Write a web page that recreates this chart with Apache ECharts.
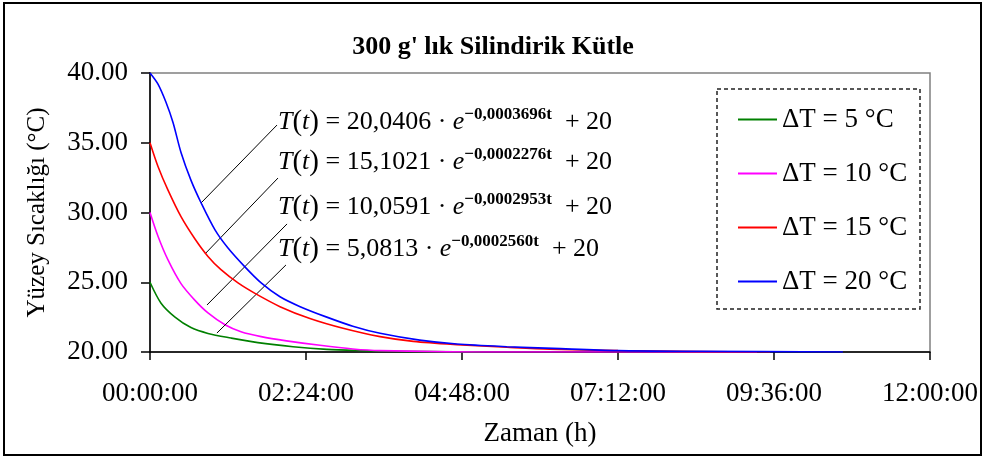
<!DOCTYPE html>
<html><head><meta charset="utf-8">
<script src="https://cdn.jsdelivr.net/npm/echarts@6/dist/echarts.min.js"></script>
<style>html,body{margin:0;padding:0;background:#fff}#c{width:986px;height:459px}</style>
</head><body><div id="c"></div>
<script>
// ---- data (time in hours, temperature in °C) ----
const seriesNames = ['ΔT = 5 °C', 'ΔT = 10 °C', 'ΔT = 15 °C', 'ΔT = 20 °C'];
const seriesColors = ['#008000', '#FF00FF', '#FF0000', '#0000FF'];

const greenT = [0, 0.17, 0.385, 0.63, 0.892, 1.246, 1.66, 2.2, 2.72, 3.23, 3.69, 5.08];
const greenV = [25.0, 23.5, 22.5, 21.75, 21.33, 21.0, 20.67, 20.38, 20.19, 20.1, 20.05, 20.0];

const pinkT = [0, 0.123, 0.277, 0.477, 0.692, 0.892, 1.154, 1.4, 1.71, 2.1, 2.615, 3.12, 3.54, 5.08, 9.34];
const pinkV = [30.0, 28.3, 26.6, 24.9, 23.7, 22.8, 21.95, 21.45, 21.1, 20.8, 20.48, 20.22, 20.1, 20.0, 20.0];

const redT = [0, 0.123, 0.277, 0.477, 0.692, 0.892, 1.092, 1.354, 1.615, 2.0, 2.46, 2.97, 3.54, 4.05, 4.72, 5.49, 6.15, 7.2, 8.46, 9.54];
const redV = [35.0, 33.3, 31.6, 29.7, 28.1, 26.85, 25.9, 24.95, 24.2, 23.25, 22.4, 21.7, 21.1, 20.76, 20.53, 20.34, 20.2, 20.1, 20.04, 20.0];

const blueT = [0, 0.123, 0.246, 0.354, 0.477, 0.631, 0.785, 1.0, 1.2, 1.46, 1.71, 2.0, 2.31, 2.72, 3.12, 3.54, 4.15, 4.72, 5.49, 6.2, 7.2, 8.46, 10.66];
const blueV = [40.0, 39.2, 37.9, 36.45, 34.3, 32.3, 30.7, 28.75, 27.45, 26.1, 24.95, 23.96, 23.25, 22.5, 21.85, 21.34, 20.85, 20.57, 20.38, 20.26, 20.1, 20.05, 20.0];

const xTickLabels = ['00:00:00', '02:24:00', '04:48:00', '07:12:00', '09:36:00', '12:00:00'];

const eqCoef = ['20,0406', '15,1021', '10,0591', '5,0813'];
const eqExp = ['−0,0003696t', '−0,0002276t', '−0,0002953t', '−0,0002560t'];
// leader lines [t1, v1, t2, v2] in data units, one per equation (blue, red, pink, green)
const leaders = [
  [0.785, 30.68, 1.954, 36.27],
  [0.846, 27.03, 1.969, 32.47],
  [0.877, 23.37, 2.108, 29.18],
  [1.03, 21.36, 2.092, 26.24]
];

// ---- build ----
const FONT = 'Liberation Serif, Times New Roman, serif';
function pairs(t, v) { return t.map((h, i) => [h * 3600, v[i]]); }
const allData = [pairs(greenT, greenV), pairs(pinkT, pinkV), pairs(redT, redV), pairs(blueT, blueV)];
const leaderSeriesIdx = [3, 2, 1, 0];

const series = allData.map((d, i) => {
  const li = leaderSeriesIdx.indexOf(i);
  const L = leaders[li];
  return {
    name: seriesNames[i], type: 'line', data: d, symbol: 'none', showSymbol: false,
    smooth: 0.3,
    lineStyle: { color: seriesColors[i], width: 1.6 }, itemStyle: { color: seriesColors[i] },
    z: 3 + i,
    markLine: {
      silent: true, symbol: ['none', 'none'], animation: false,
      lineStyle: { color: '#000', width: 1, type: 'solid' }, label: { show: false },
      data: [[{ coord: [L[0] * 3600, L[1]] }, { coord: [L[2] * 3600, L[3]] }]]
    }
  };
});

const eqY = [122.5, 162.5, 207, 249];
const graphics = eqCoef.map((c, i) => ({
  type: 'text', left: 278, top: eqY[i] - 16, z: 100,
  style: {
    text: '{i|T}{q|(}{i|t}{q|)}{p| = ' + c + ' · }{i|e}{s|' + eqExp[i] + '}{p|  + 20}',
    fill: '#000',
    rich: {
      i: { fontFamily: FONT, fontStyle: 'italic', fontSize: 26, lineHeight: 32 },
      q: { fontFamily: FONT, fontSize: 29, lineHeight: 32 },
      p: { fontFamily: FONT, fontSize: 26, lineHeight: 32 },
      s: { fontFamily: FONT, fontSize: 17, fontWeight: 'bold', lineHeight: 17, verticalAlign: 'top' }
    }
  }
}));
graphics.push({
  type: 'rect', shape: { x: 717, y: 89, width: 203, height: 220 }, z: 50,
  style: { fill: 'none', stroke: '#222', lineWidth: 1.5, lineDash: [4, 3] }
});
graphics.push({
  type: 'rect', shape: { x: 4, y: 3, width: 977, height: 452 }, z: 50,
  style: { fill: 'none', stroke: '#000', lineWidth: 2 }
});

const chart = echarts.init(document.getElementById('c'), null, { renderer: 'canvas' });
chart.setOption({
  animation: false,
  backgroundColor: '#fff',
  title: {
    text: "300 g' lık Silindirik Kütle", left: 'center', top: 34, padding: 0,
    textStyle: { fontFamily: FONT, fontSize: 26, fontWeight: 'bold', color: '#000' }
  },
  legend: {
    orient: 'vertical', left: 717, top: 89,
    data: seriesNames.map(n => ({ name: n, icon: 'rect' })),
    itemWidth: 39, itemHeight: 2, itemGap: 27, padding: [17, 13, 12, 21],
    textStyle: { fontFamily: FONT, fontSize: 27, color: '#000', lineHeight: 27 }
  },
  grid: {
    left: 150, right: 56, top: 73, bottom: 107, containLabel: false,
    show: true, borderColor: '#808080', borderWidth: 1.5
  },
  xAxis: {
    type: 'value', min: 0, max: 43200, interval: 8640,
    name: 'Zaman (h)', nameLocation: 'middle', nameGap: 68,
    nameTextStyle: { fontFamily: FONT, fontSize: 27, color: '#000' },
    axisLine: { lineStyle: { color: '#000', width: 1.5 } },
    axisTick: { show: true, length: 8, inside: false, lineStyle: { color: '#000', width: 1.5 } },
    axisLabel: {
      margin: 28, fontFamily: FONT, fontSize: 27, color: '#000',
      formatter: v => xTickLabels[Math.round(v / 8640)]
    },
    splitLine: { show: false }
  },
  yAxis: {
    type: 'value', min: 20, max: 40, interval: 5,
    name: 'Yüzey Sıcaklığı (°C)', nameLocation: 'middle', nameGap: 100, nameRotate: 90,
    nameTextStyle: { fontFamily: FONT, fontSize: 25, color: '#000' },
    axisLine: { show: true, lineStyle: { color: '#000', width: 1.5 } },
    axisTick: { show: true, length: 9, inside: false, lineStyle: { color: '#000', width: 1.5 } },
    axisLabel: { margin: 22, fontFamily: FONT, fontSize: 27, color: '#000', formatter: v => v.toFixed(2) },
    splitLine: { show: false }
  },
  graphic: graphics,
  series: series
});
</script></body></html>
